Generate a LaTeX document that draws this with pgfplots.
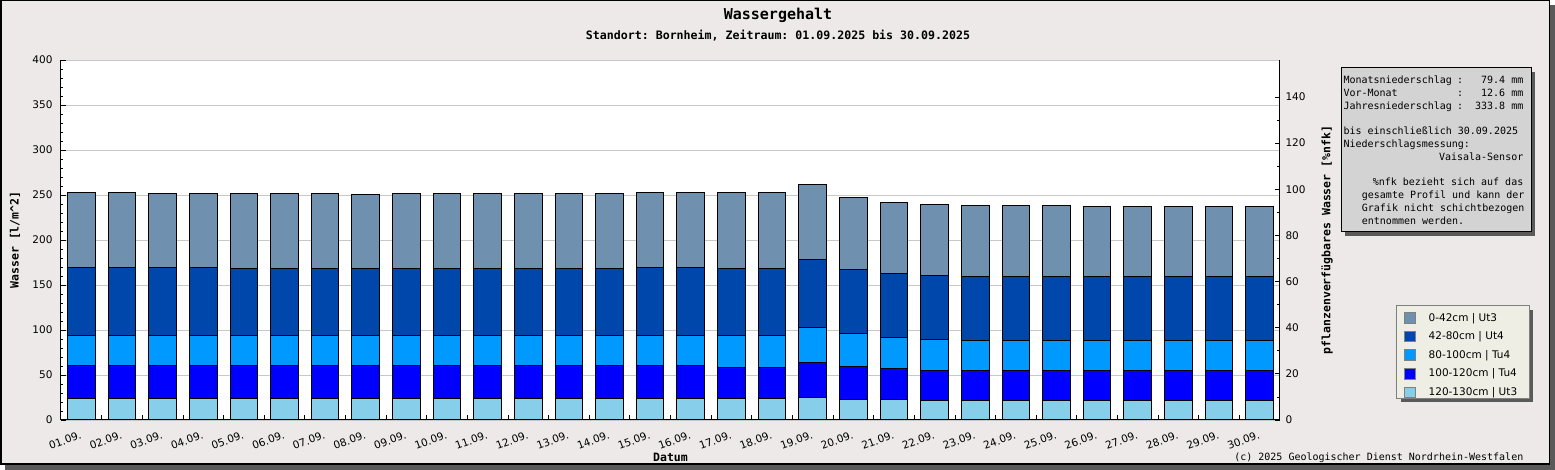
\documentclass[border=0pt]{standalone}
\usepackage{fontspec}
\setmainfont{DejaVu Sans}
\setsansfont{DejaVu Sans}
\setmonofont{DejaVu Sans Mono}
\usepackage{pgfplots}
\pgfplotsset{compat=1.18}
\usepackage{pgfplotstable}

\definecolor{bgc}{RGB}{236,233,232}
\definecolor{shd}{RGB}{90,90,90}
\definecolor{cA}{RGB}{112,144,176}
\definecolor{cB}{RGB}{0,71,171}
\definecolor{cC}{RGB}{0,153,255}
\definecolor{cD}{RGB}{0,0,255}
\definecolor{cE}{RGB}{135,206,235}
\definecolor{legbg}{RGB}{238,238,228}
\definecolor{infobg}{RGB}{211,211,211}
\definecolor{gridc}{RGB}{200,200,200}

\newcommand\tickfont{\fontsize{10.5}{12}\selectfont}
\newcommand\monofont{\ttfamily\fontsize{10}{12}\selectfont}
\newcommand\labfont{\ttfamily\bfseries\fontsize{11.5}{13}\selectfont}

\pgfplotstableread{
day a b c d e
1 24.0 36.0 34.0 75.6 83.4
2 24.0 36.0 34.0 75.6 83.4
3 24.0 36.0 34.0 75.6 82.4
4 24.0 36.0 34.0 75.6 82.4
5 24.0 36.0 34.0 74.5 83.5
6 24.0 36.0 34.0 74.5 83.5
7 24.0 36.0 34.0 74.5 83.5
8 24.0 36.0 34.0 74.5 82.5
9 24.0 36.0 34.0 74.5 83.5
10 24.0 36.0 34.0 74.5 83.5
11 24.0 36.0 34.0 74.5 83.5
12 24.0 36.0 34.0 74.5 83.5
13 24.0 36.0 34.0 74.5 83.5
14 24.0 36.0 34.0 74.5 83.5
15 24.0 36.0 34.0 75.6 83.4
16 24.0 36.0 34.0 75.6 83.4
17 23.7 34.8 35.2 74.8 84.1
18 23.7 34.8 35.2 74.8 84.1
19 24.8 39.3 38.5 75.9 83.0
20 23.0 36.6 36.7 71.1 80.0
21 23.0 34.4 34.4 71.2 78.9
22 21.9 33.3 34.4 71.1 78.9
23 21.9 33.3 33.3 71.1 78.9
24 21.9 33.3 33.3 71.1 78.9
25 21.9 33.3 33.3 71.1 78.9
26 21.9 33.3 32.9 71.2 78.1
27 21.9 33.3 32.9 71.2 78.1
28 21.9 33.3 32.9 71.2 78.1
29 21.9 33.3 32.9 71.2 78.1
30 21.9 33.3 32.9 71.2 78.1
}\datatable

\begin{document}
\begin{tikzpicture}[x=1pt,y=1pt]
\useasboundingbox (0,0) rectangle (1555,470);
\fill[shd] (5,0) rectangle (1555,465);
\filldraw[fill=bgc, draw=black, line width=1.5pt] (0.75,5.75) rectangle (1549.25,469.25);

\node[font=\ttfamily\bfseries\fontsize{15}{17}\selectfont] at (778,455) {Wassergehalt};
\node[font=\ttfamily\bfseries\fontsize{11.6}{13}\selectfont] at (778,434.3) {Standort: Bornheim, Zeitraum: 01.09.2025 bis 30.09.2025};

% legend box and its shadow
\fill[shd] (1400.7,67.7) rectangle (1533.3,160);
\filldraw[fill=legbg, draw=gray, line width=1pt] (1396.7,71.7) rectangle (1529.3,164);

\begin{axis}[
  at={(61pt,50pt)}, anchor=south west, width=1219pt, height=360pt, scale only axis,
  xmin=0.5, xmax=30.5, ymin=0, ymax=400,
  ybar stacked, bar width=0.68,
  axis x line*=bottom, axis y line*=left,
  axis line style={black, line width=1pt},
  axis background/.style={fill=white},
  ymajorgrids, grid style={gridc, line width=0.8pt},
  ytick={0,50,...,400}, minor y tick num=4,
  xtick={1,...,30},
  xticklabels={01.09.,02.09.,03.09.,04.09.,05.09.,06.09.,07.09.,08.09.,09.09.,10.09.,11.09.,12.09.,13.09.,14.09.,15.09.,16.09.,17.09.,18.09.,19.09.,20.09.,21.09.,22.09.,23.09.,24.09.,25.09.,26.09.,27.09.,28.09.,29.09.,30.09.},
  major x tick style={draw=none},
  tick align=inside,
  major tick length=5pt, minor tick length=2.5pt,
  tick style={black, line width=0.8pt},
  /pgf/number format/assume math mode=true,
  yticklabel style={font=\tickfont, xshift=-5pt},
  xticklabel style={font=\tickfont, rotate=20, anchor=north east, xshift=-2pt, yshift=-6pt},
  ylabel={Wasser [l/m\textasciicircum 2]},
  ylabel style={font=\labfont, at={(axis description cs:-0.0377,0.5)}, anchor=center},
  xlabel={Datum},
  xlabel style={font=\labfont, at={(axis description cs:0.5,-0.1028)}, anchor=center},
  reverse legend,
  legend image code/.code={\draw[#1, draw=gray, line width=0.8pt] (0pt,-5.3pt) rectangle (10.7pt,5.3pt);},
  legend style={at={(1.0957,0.3167)}, anchor=north west, draw=none, fill=none,
     font=\tickfont, inner xsep=7.3pt, inner ysep=6pt,
     nodes={inner sep=0pt}, cells={anchor=west},
     row sep=7.2pt, column sep=13pt},
]
\addplot[fill=cE, draw=black, line width=1pt] table[x=day,y=a]{\datatable};
\addlegendentry{120-130cm | Ut3}
\addplot[fill=cD, draw=black, line width=1pt] table[x=day,y=b]{\datatable};
\addlegendentry{100-120cm | Tu4}
\addplot[fill=cC, draw=black, line width=1pt] table[x=day,y=c]{\datatable};
\addlegendentry{80-100cm | Tu4}
\addplot[fill=cB, draw=black, line width=1pt] table[x=day,y=d]{\datatable};
\addlegendentry{42-80cm | Ut4}
\addplot[fill=cA, draw=black, line width=1pt] table[x=day,y=e]{\datatable};
\addlegendentry{0-42cm | Ut3}
\end{axis}

\begin{axis}[
  at={(61pt,50pt)}, anchor=south west, width=1219pt, height=360pt, scale only axis,
  xmin=0.5, xmax=30.5, ymin=0, ymax=156,
  axis x line*=bottom, axis y line*=right,
  axis line style={black, line width=1pt},
  xtick={1.5,2.5,...,29.5}, xticklabels={},
  ytick={0,20,...,140}, minor y tick num=1,
  tick align=inside,
  major tick length=5pt, minor tick length=2.5pt,
  tick style={black, line width=0.8pt},
  /pgf/number format/assume math mode=true,
  yticklabel style={font=\tickfont, xshift=2pt},
  ylabel={pflanzenverfügbares Wasser [\%nfk]},
  ylabel style={font=\labfont, at={(axis description cs:1.0386,0.5)}, anchor=center},
]
\end{axis}

% info box
\fill[shd] (1345,234) rectangle (1535,398);
\filldraw[fill=infobg, draw=black, line width=1pt] (1341,238) rectangle (1531,402);
\begin{scope}[every node/.style={font=\monofont, inner sep=0pt}]
\node[anchor=base west] at (1343.3,386.5) {Monatsniederschlag};
\node[anchor=base] at (1460,386.5) {:};
\node[anchor=base east] at (1523.5,386.5) {79.4 mm};
\node[anchor=base west] at (1343.3,373.7) {Vor-Monat};
\node[anchor=base] at (1460,373.7) {:};
\node[anchor=base east] at (1523.5,373.7) {12.6 mm};
\node[anchor=base west] at (1343.3,360.9) {Jahresniederschlag};
\node[anchor=base] at (1460,360.9) {:};
\node[anchor=base east] at (1523.5,360.9) {333.8 mm};
\node[anchor=base west] at (1343.3,335.3) {bis einschließlich 30.09.2025};
\node[anchor=base west] at (1343.3,322.5) {Niederschlagsmessung:};
\node[anchor=base east] at (1523.5,309.7) {Vaisala-Sensor};
\node[anchor=base east] at (1523.5,284.1) {\%nfk bezieht sich auf das};
\node[anchor=base west] at (1361.7,271.3) {gesamte Profil und kann der};
\node[anchor=base west] at (1361.7,258.5) {Grafik nicht schichtbezogen};
\node[anchor=base west] at (1361.7,245.7) {entnommen werden.};
\end{scope}

\node[anchor=east, font=\monofont, inner sep=0pt] at (1523.5,12) {(c) 2025 Geologischer Dienst Nordrhein-Westfalen};
\end{tikzpicture}
\end{document}
